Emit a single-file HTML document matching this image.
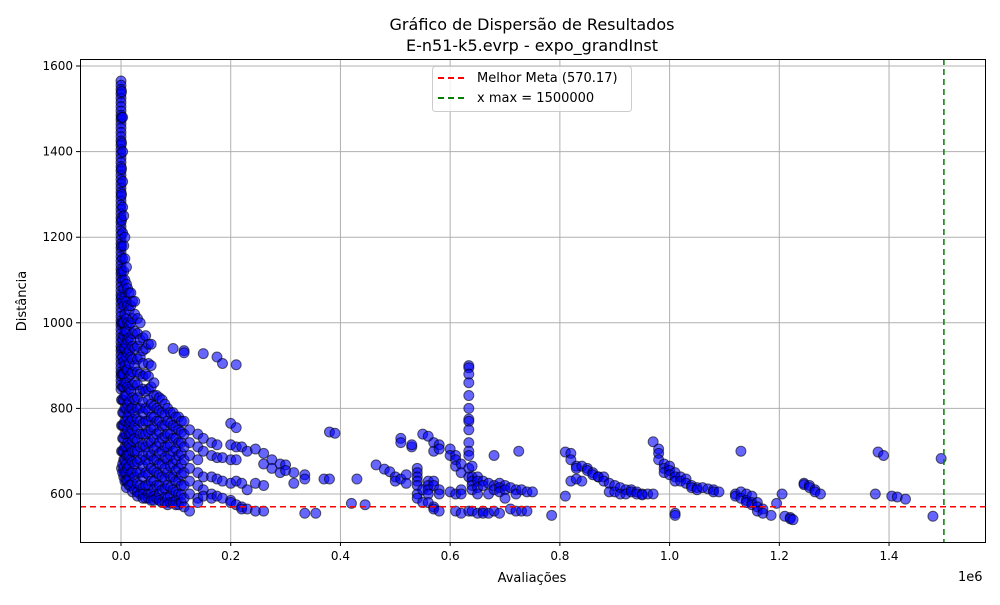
<!DOCTYPE html>
<html><head><meta charset="utf-8">
<style>
body{margin:0;background:#fff;font-family:"Liberation Sans","DejaVu Sans",sans-serif;}
svg text{font-family:"DejaVu Sans","Liberation Sans",sans-serif;}
</style></head>
<body>
<svg id="chart" width="1000" height="600" xmlns="http://www.w3.org/2000/svg">
<rect width="1000" height="600" fill="#fff"/>
<text x="532" y="30" font-size="16" text-anchor="middle">Gráfico de Dispersão de Resultados</text>
<text x="532" y="51" font-size="16" text-anchor="middle">E-n51-k5.evrp - expo_grandInst</text>
<g id="grid"></g>
<g id="ticks"></g>
<g id="points"></g>
<g id="refs"></g>
<rect x="80.5" y="59.5" width="905" height="483" fill="none" stroke="#000" stroke-width="1"/>
<text x="532" y="582" font-size="13" text-anchor="middle">Avaliações</text>
<text x="958" y="581" font-size="13">1e6</text>
<text transform="translate(26,301) rotate(-90)" font-size="13" text-anchor="middle">Distância</text>
<g>
<rect x="432.5" y="66.5" width="199" height="45" rx="3" fill="#fff" fill-opacity="0.8" stroke="#ccc"/>
<line x1="438" y1="78" x2="466" y2="78" stroke="red" stroke-width="2" stroke-dasharray="6,4"/>
<text x="477" y="82" font-size="13">Melhor Meta (570.17)</text>
<line x1="438" y1="98" x2="466" y2="98" stroke="green" stroke-width="2" stroke-dasharray="6,4"/>
<text x="477" y="102" font-size="13">x max = 1500000</text>
</g>
</svg>
<script>
const xTicks=[0,0.2,0.4,0.6,0.8,1.0,1.2,1.4];
const xTickLabels=["0.0","0.2","0.4","0.6","0.8","1.0","1.2","1.4"];
const yTicks=[600,800,1000,1200,1400,1600];
const bestMeta=570.17;
const xMax=1.5;
const colX=[0,0.001,0.003,0.005,0.007,0.01,0.012,0.015,0.018,0.021,0.025,0.03,0.035,0.04,0.045,0.05,0.055,0.06,0.065,0.07,0.075,0.08,0.085,0.09,0.095,0.1,0.105,0.11,0.115,0.125,0.14,0.15,0.165,0.175,0.185,0.2,0.21,0.22,0.23,0.245,0.26,0.275,0.29,0.3,0.315,0.335,0.355,0.37,0.38,0.39,0.42,0.43,0.445,0.465,0.48,0.49,0.5,0.51,0.52,0.53,0.54,0.55,0.56,0.57,0.58,0.6,0.61,0.62,0.634,0.64,0.65,0.66,0.67,0.68,0.69,0.7,0.71,0.72,0.725,0.73,0.74,0.75,0.785,0.81,0.82,0.83,0.84,0.85,0.86,0.87,0.88,0.89,0.9,0.91,0.92,0.93,0.94,0.95,0.96,0.97,0.98,0.99,1.0,1.01,1.02,1.03,1.04,1.05,1.06,1.07,1.08,1.09,1.12,1.13,1.14,1.15,1.16,1.17,1.185,1.195,1.205,1.21,1.22,1.225,1.245,1.255,1.265,1.275,1.375,1.38,1.39,1.405,1.415,1.43,1.48,1.495];
const colY=[
[1565,1555,1545,1535,1525,1515,1505,1495,1485,1475,1465,1455,1445,1435,1425,1415,1405,1395,1385,1375,1365,1355,1345,1335,1325,1315,1305,1295,1285,1275,1265,1255,1245,1235,1225,1215,1205,1195,1185,1175,1165,1155,1145,1135,1125,1115,1105,1095,1085,1075,1065,1055,1045,1035,1025,1015,1005,995,985,975,965,955,945,935,925,915,905,895,885,875,865,855,845],
[1540,1480,1420,1360,1300,1240,1180,1120,1060,1000,940,880,820,760,700,660],
[1480,1400,1330,1270,1210,1150,1100,1050,1000,960,920,880,850,820,790,760,730,700,670,650],
[1250,1180,1120,1080,1040,1000,970,940,910,880,850,820,790,760,730,700,680,660,640],
[1200,1150,1100,1060,1020,980,940,900,860,830,800,770,740,710,680,650,630],
[1130,1090,1050,1010,980,950,920,890,860,830,800,770,740,710,690,670,650,630,615],
[1080,1040,1000,960,930,890,850,810,780,750,720,690,660,630],
[1070,1030,995,965,935,905,875,845,815,790,765,740,715,690,665,640,620],
[1070,1040,1000,960,920,880,840,800,770,740,710,680,650,620],
[1050,1010,975,945,915,885,855,825,800,775,750,725,700,675,650,625,605],
[1050,1020,980,940,900,860,820,790,760,730,700,670,640,610],
[1010,975,945,915,885,855,825,800,775,750,725,700,675,650,625,605,595],
[1000,960,920,880,840,800,770,740,710,680,650,620,600],
[965,935,905,875,845,815,790,765,740,715,690,665,640,615,600,590],
[970,940,880,840,800,770,740,710,680,650,620,590],
[950,905,875,845,820,795,770,745,720,695,670,645,620,600,590],
[950,900,850,810,780,750,720,690,660,630,600,585],
[860,830,805,780,755,730,705,680,655,630,610,595,585],
[830,800,770,740,710,680,650,620,590],
[825,795,770,745,720,695,670,645,620,600,585],
[820,790,760,730,700,670,640,610,580],
[810,785,760,735,710,685,660,635,612,592,580],
[800,770,740,710,680,650,620,590,575],
[790,765,740,715,690,665,640,615,595,580],
[790,760,730,700,670,640,610,580,940],
[780,755,730,705,680,655,630,605,585,575],
[780,750,720,690,660,630,600,575],
[770,745,720,695,670,645,620,598,580],
[770,740,710,680,650,620,590,570,935,930],
[750,720,690,660,630,600,560],
[740,710,680,650,620,590,580],
[730,700,640,610,595,928],
[720,690,640,600,590],
[715,685,635,595,920],
[685,630,590,905],
[765,715,680,625,585,580],
[755,710,680,630,575,902],
[710,625,570,565],
[700,610,565],
[705,625,560],
[695,670,620,560],
[680,660],
[670,650],
[668,655],
[650,625],
[645,635,555],
[555],
[635],
[745,635],
[742],
[578],
[635],
[575],
[668],
[658],
[652],
[640,630],
[730,720,635],
[645,625],
[710,715],
[660,650,640,630,620,600,590],
[740,610,580],
[735,630,620,610,600,580],
[720,700,630,620,570,565],
[715,705,610,600,560],
[705,690,605],
[690,680,665,560,600],
[670,650,610,600,555],
[900,895,880,860,830,800,775,770,750,720,700,690,660,640,560],
[665,640,630,620,610,560],
[640,630,615,600,555],
[630,620,560,555],
[625,600,555],
[690,620,610,560],
[625,615,605,555],
[620,610,590],
[615,565],
[610,600,560],
[700],
[610,560],
[605,560],
[605],
[550],
[698,595],
[695,680,630],
[665,660,635],
[665,630],
[660,655],
[650,645],
[640,640],
[640,630],
[625,605],
[620,605],
[615,600],
[610,600],
[610,605],
[605,600],
[600,598],
[600],
[722,600],
[705,695,680],
[670,660,650],
[665,655,645],
[650,640,630,555,550],
[640,630],
[635,625],
[620,615],
[615,610],
[615],
[612],
[610,605],
[605],
[600,595],
[700,605,590],
[600,585,580],
[595,580,575],
[580,570,560],
[565,555],
[550],
[578],
[600],
[548],
[545,542],
[540],
[625,622],
[620,615],
[610,605],
[600],
[600],
[698],
[690],
[595],
[593],
[588],
[548],
[683]];
const L=80,R=985,T=59,B=542;
function sx(v){return 121+v*548.6;}
function sy(v){return 494-(v-600)*0.428;}
const NS="http://www.w3.org/2000/svg";
function mk(tag,attrs,parent){const e=document.createElementNS(NS,tag);for(const k in attrs)e.setAttribute(k,attrs[k]);parent.appendChild(e);return e;}
const grid=document.getElementById('grid'),ticks=document.getElementById('ticks'),pts=document.getElementById('points'),refs=document.getElementById('refs');
xTicks.forEach((v,i)=>{const x=sx(v);
 const g=mk('line',{x1:x,x2:x,y1:T,y2:B,stroke:'#b0b0b0','stroke-width':1},grid);
 
 
 mk('line',{x1:x,x2:x,y1:B,y2:B+4,stroke:'#000'},ticks);
 const t=mk('text',{x:x,y:B+18,'font-size':12,'text-anchor':'middle'},ticks);t.textContent=xTickLabels[i];
 
 });
yTicks.forEach(v=>{const y=sy(v);
 const g=mk('line',{x1:L,x2:R,y1:y,y2:y,stroke:'#b0b0b0','stroke-width':1},grid);
 
 
 mk('line',{x1:L-4,x2:L,y1:y,y2:y,stroke:'#000'},ticks);
 const t=mk('text',{x:L-7,y:y+4,'font-size':12,'text-anchor':'end'},ticks);t.textContent=String(v);
 
 });
colX.forEach((xv,i)=>{(colY[i]||[]).forEach(yv=>{
 const c=mk('circle',{cx:sx(xv),cy:sy(yv),r:5,fill:'#0000ff','fill-opacity':0.6,stroke:'#000','stroke-opacity':0.6,'stroke-width':1},pts);
 
 });});
const hl=mk('line',{x1:L,x2:R,y1:sy(bestMeta),y2:sy(bestMeta),stroke:'red','stroke-width':1.5,'stroke-dasharray':'6,4'},refs);


const vl=mk('line',{x1:sx(xMax),x2:sx(xMax),y1:T,y2:B,stroke:'green','stroke-width':1.5,'stroke-dasharray':'6,4'},refs);


</script>
</body></html>
